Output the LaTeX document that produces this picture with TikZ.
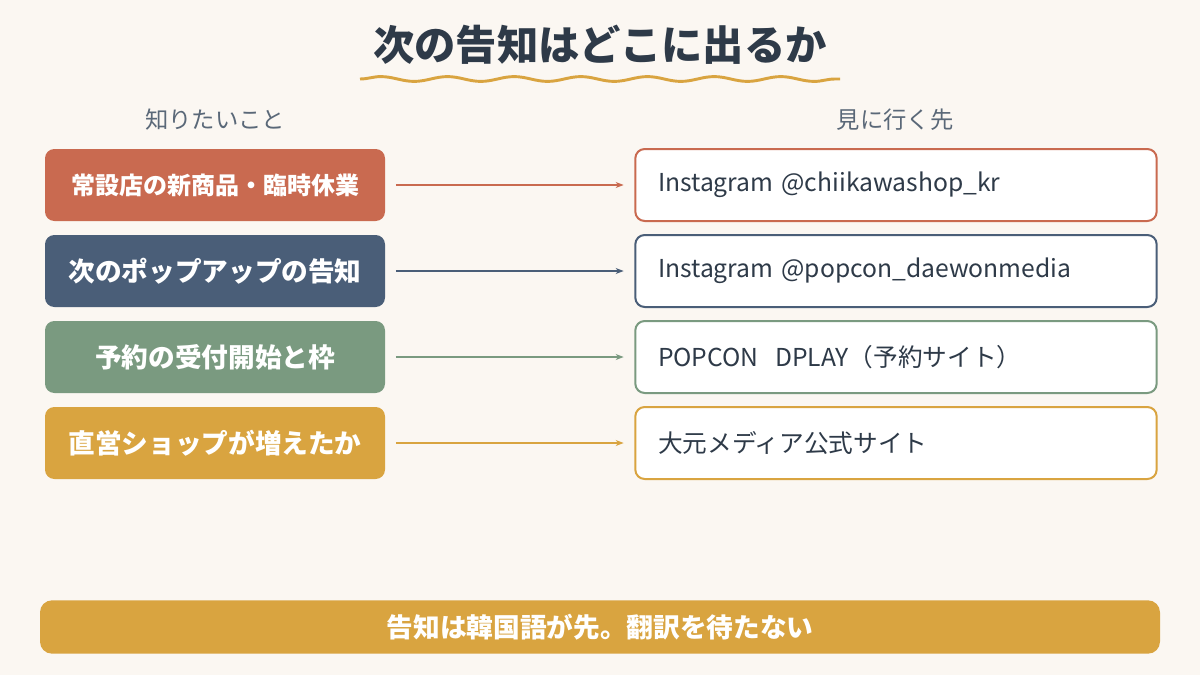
\documentclass[tikz,border=0pt]{standalone}
\usepackage{fontspec}
\setmainfont{Noto Sans CJK JP}
\usetikzlibrary{decorations.pathmorphing,arrows.meta}
\definecolor{bg}{HTML}{FBF7F2}
\definecolor{cA}{HTML}{C96A50}
\definecolor{cB}{HTML}{4A5E78}
\definecolor{cC}{HTML}{7A9A80}
\definecolor{cD}{HTML}{D9A440}
\definecolor{ink}{HTML}{2E3A48}
\definecolor{head}{HTML}{5A6878}
\begin{document}
\begin{tikzpicture}[x=0.75pt,y=-0.75pt,
 lbox/.style={rounded corners=7pt,minimum width=255pt,minimum height=54pt,text=white,inner sep=0pt},
 rbox/.style={rounded corners=7pt,fill=white,line width=1.5pt,minimum width=391pt,minimum height=54pt,text=ink,font=\fontsize{18.5}{21}\selectfont,inner sep=0pt,text width=357pt,align=left},
 arr/.style={line width=1.2pt,-{Stealth[length=6pt]}}]
\useasboundingbox (0,0) rectangle (1200,675);
\fill[bg] (0,0) rectangle (1200,675);
\node[font=\bfseries\fontsize{31}{34}\selectfont,text=ink] (title) at (600,45) {次の告知はどこに出るか};
\draw[cD,line width=2.2pt,decorate,decoration={snake,amplitude=1.8pt,segment length=50pt}] (360,79) -- (840,79);
\node[font=\fontsize{17.5}{20}\selectfont,text=head] (h1) at (215,120) {知りたいこと};
\node[font=\fontsize{17.5}{20}\selectfont,text=head] (h2) at (895,120) {見に行く先};
\foreach \i/\y/\c/\l/\r/\fs in {1/185/cA/常設店の新商品・臨時休業/Instagram @chiikawashop\_kr/18,2/271/cB/次のポップアップの告知/Instagram @popcon\_daewonmedia/20,3/357/cC/予約の受付開始と枠/POPCON\ \ DPLAY（予約サイト）/20,4/443/cD/直営ショップが増えたか/大元メディア公式サイト/20}{
 \node[lbox,fill=\c,font=\bfseries\fontsize{\fs}{22}\selectfont] (L\i) at (215,\y) {\l};
 \node[rbox,draw=\c] (R\i) at (896,\y) {\r};
 \draw[arr,\c] ([xshift=8pt]L\i.east) -- ([xshift=-8pt]R\i.west);
}
\node[rounded corners=9pt,fill=cD,minimum width=840pt,minimum height=40pt,text=white,font=\bfseries\fontsize{20}{23}\selectfont] (bar) at (600,627) {告知は韓国語が先。翻訳を待たない};
\end{tikzpicture}
\end{document}
